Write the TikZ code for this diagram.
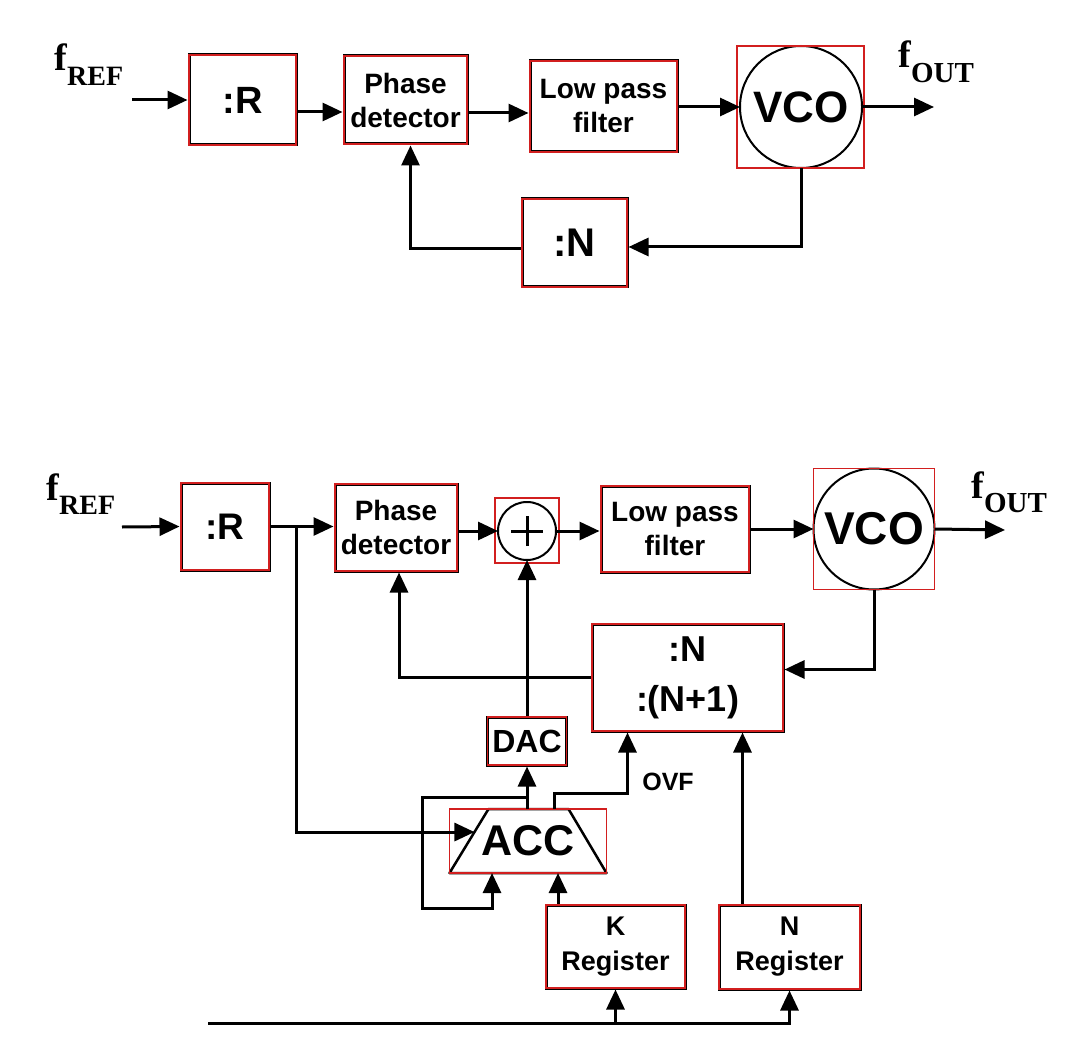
\documentclass[tikz,border=0pt]{standalone}
\usepackage{fontspec}
\setsansfont{Liberation Sans}
\newfontfamily\refont{Liberation Serif}
\usetikzlibrary{arrows.meta,calc}
\definecolor{boxred}{HTML}{D21F1F}
\newcommand{\fsz}[2]{\fontsize{#1}{#2}\selectfont}

\tikzset{
  blk/.style={draw=black, line width=3pt, inner sep=0pt, align=center,
    font=\sffamily\bfseries\fsz{28}{34}, postaction={draw=boxred, line width=1.8pt}},
  osc/.style={circle, draw=black, line width=2pt, inner sep=0pt, outer sep=0pt,
    font=\sffamily\bfseries\fsz{44}{44}},
  redframe/.style={draw=boxred, line width=1.8pt},
  freq/.style={inner sep=0pt, anchor=north west, font=\refont\bfseries\fsz{38}{38}},
}

\begin{document}
\begin{tikzpicture}[x=1pt, y=-1pt, line width=3pt, >={Triangle[length=20pt, width=18pt]}]
  \useasboundingbox (0,0) rectangle (1075,1056);

  % integer-N synthesizer
  \node[freq] (fref1) at (53,42) {f\raisebox{-15pt}{\fsz{28}{28}REF}};
  \node[blk, minimum width=107, minimum height=90, font=\sffamily\bfseries\fsz{38}{38}] (r1) at (242.5,100) {:R};
  \node[blk, minimum width=123, minimum height=88] (pd1) at (405.5,100) {Phase\\detector};
  \node[blk, minimum width=147, minimum height=91] (lpf1) at (603.5,106.5) {Low pass\\filter};
  \node[osc, minimum size=122] (vco1) at (801,107) {VCO};
  \draw[redframe] ($(vco1.west |- vco1.north)+(-3,0)$) rectangle ($(vco1.east |- vco1.south)+(2,0)$);
  \node[freq] (fout1) at (897,39) {f\raisebox{-15pt}{\fsz{29}{29}OUT}};
  \node[blk, minimum width=105, minimum height=88, font=\sffamily\bfseries\fsz{40}{40}] (ndiv1) at (574.5,243) {:N};
  \coordinate (in1) at (132,100);
  \coordinate (out1) at (934,107);

  \draw[->] (in1) -- (r1.west);
  \draw[->] ($(r1.east)+(0,12)$) -- ($(pd1.west)+(0,12)$);
  \draw[->] ($(pd1.east)+(0,13)$) -- ($(lpf1.west)+(0,6.5)$);
  \draw[->] (lpf1.east |- vco1.west) -- (vco1.west);
  \draw[->] (vco1.east) -- (out1);
  \draw[->] (vco1.south) |- ([yshift=-4pt]ndiv1.east);
  \draw[->] ([yshift=-6pt]ndiv1.west) -| ([xshift=5pt]pd1.south);

  % fractional-N synthesizer
  \node[freq] (fref2) at (45,472) {f\raisebox{-14pt}{\fsz{28}{28}REF}};
  \node[blk, minimum width=88, minimum height=87, font=\sffamily\bfseries\fsz{37}{37}] (r2) at (225,526.5) {:R};
  \node[blk, minimum width=122, minimum height=87] (pd2) at (396,527.5) {Phase\\detector};
  \node[circle, draw=black, line width=2pt, inner sep=0pt, outer sep=0pt, minimum size=58] (sum) at (527,531) {};
  \draw ([xshift=-16pt]sum.center) -- ([xshift=16pt]sum.center);
  \draw ([yshift=-15pt]sum.center) -- ([yshift=15pt]sum.center);
  \draw[redframe] ($(sum.west |- sum.north)+(-3,-4)$) rectangle ($(sum.east |- sum.south)+(3,3)$);
  \node[blk, minimum width=148, minimum height=86] (lpf2) at (675,529) {Low pass\\filter};
  \node[osc, minimum size=121, font=\sffamily\bfseries\fsz{46}{46}] (vco2) at (874,529) {VCO};
  \draw[redframe] (vco2.west |- vco2.north) rectangle (vco2.east |- vco2.south);
  \node[freq] (fout2) at (970,470) {f\raisebox{-14pt}{\fsz{29}{29}OUT}};
  \node[blk, minimum width=191, minimum height=107, font=\sffamily\bfseries\fsz{36}{50}] (ndiv2) at (687.5,677.5) {:N\\:(N+1)};
  \node[blk, minimum width=79, minimum height=48, font=\sffamily\bfseries\fsz{32}{32}] (dac) at (527,741) {DAC};
  \node[inner sep=0pt, outer sep=0pt, minimum width=157, minimum height=64, font=\sffamily\bfseries\fsz{43}{43}] (acc) at (528,841) {ACC};
  \node[blk, minimum width=139, minimum height=83, font=\sffamily\bfseries\fsz{27}{35}] (kreg) at (615.5,946.5) {K\\Register};
  \node[blk, minimum width=141, minimum height=84, font=\sffamily\bfseries\fsz{27}{35}] (nreg) at (789.5,947) {N\\Register};
  \node[inner sep=0pt, font=\sffamily\bfseries\fsz{25}{25}] (ovflbl) at (668,782) {OVF};

  % accumulator outline
  \coordinate (acctl) at ([xshift=39pt]acc.north west);
  \coordinate (acctr) at ([xshift=-38pt]acc.north east);
  \draw[line width=2.5pt, line join=round] (acc.south west) -- (acctl) -- (acctr) -- (acc.south east) -- cycle;
  \draw[redframe] (acc.south west) rectangle (acc.north east);
  \coordinate (accin) at ($(acc.south west)!0.64!(acctl)$);

  \coordinate (in2) at (122,527);
  \coordinate (out2) at (1005,530);
  \coordinate (tap) at (296,526);
  \coordinate (lpA) at (422,797);
  \coordinate (lpB) at (422,908);
  \coordinate (ovf) at (600,793);
  \coordinate (bus) at (208,1023);

  \draw[->] (in2) -- (r2.west);
  \draw[->] (r2.east) -- (pd2.west |- r2.east);
  \draw[->] (tap) |- (accin);
  \draw[->] (pd2.east |- sum.west) -- (sum.west);
  \draw[->] (sum.east) -- (lpf2.west |- sum.east);
  \draw[->] (lpf2.east) -- (vco2.west);
  \draw[->] (vco2.east) -- (out2);
  \draw[->] (vco2.south) |- ([yshift=8pt]ndiv2.east);
  \draw[->] ([yshift=0.5pt]ndiv2.west) -| ([xshift=3pt]pd2.south);
  \draw[->] (dac.north) -- (sum.south);
  \draw[->] (acc.north -| dac.south) -- (dac.south);
  % feedback of the accumulator
  \draw[->] (dac.south |- lpA) -- (lpA) -- (lpB) -| ([xshift=-36pt]acc.south);
  % overflow
  \draw[->] ([xshift=26pt]acc.north) |- (ovf) -| ([xshift=-60pt]ndiv2.south);
  \draw[->] ([xshift=30pt]acc.south |- kreg.north) -- ([xshift=30pt]acc.south);
  \draw[->] ([xshift=55pt]ndiv2.south |- nreg.north) -- ([xshift=55pt]ndiv2.south);
  \draw[->] (bus) -| (nreg.south);
  \draw[->] (kreg.south |- bus) -- (kreg.south);
\end{tikzpicture}
\end{document}
